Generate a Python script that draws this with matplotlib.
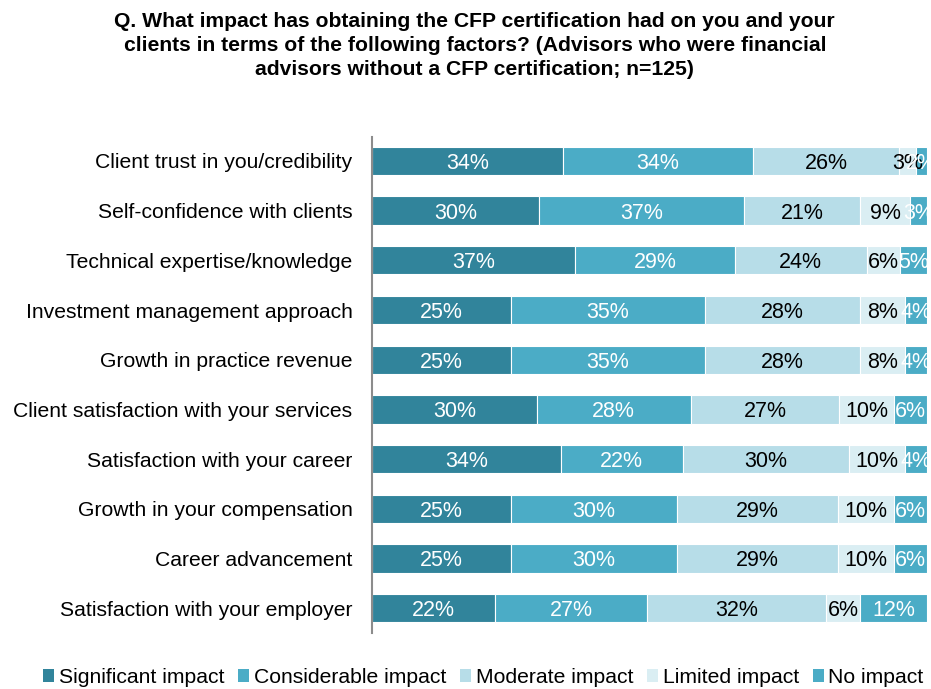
import matplotlib
matplotlib.use("Agg")
import matplotlib.pyplot as plt
from matplotlib.patches import Patch

plt.rcParams["font.family"] = ["Liberation Sans", "DejaVu Sans"]

categories = [
    "Client trust in you/credibility",
    "Self-confidence with clients",
    "Technical expertise/knowledge",
    "Investment management approach",
    "Growth in practice revenue",
    "Client satisfaction with your services",
    "Satisfaction with your career",
    "Growth in your compensation",
    "Career advancement",
    "Satisfaction with your employer",
]
series_names = ["Significant impact", "Considerable impact", "Moderate impact",
                "Limited impact", "No impact"]
significant = [34, 30, 37, 25, 25, 30, 34, 25, 25, 22]
considerable = [34, 37, 29, 35, 35, 28, 22, 30, 30, 27]
moderate = [26, 21, 24, 28, 28, 27, 30, 29, 29, 32]
limited = [3, 9, 6, 8, 8, 10, 10, 10, 10, 6]
no_impact = [2, 3, 5, 4, 4, 6, 4, 6, 6, 12]

colors = ["#31849B", "#4BACC6", "#B7DDE8", "#DAEEF3", "#4BACC6"]
text_colors = ["white", "white", "black", "black", "white"]

series = [significant, considerable, moderate, limited, no_impact]
totals = [sum(vals) for vals in zip(*series)]

fig = plt.figure(figsize=(9.31, 6.89), dpi=100)
ax = fig.add_axes([0.3996, 0.0813, 0.5961, 0.7197])

y = list(range(len(categories)))
left = [0.0] * len(categories)
for vals, name, col, tcol in zip(series, series_names, colors, text_colors):
    # bars share the row total so every row ends at 100%
    widths = [v / t * 100 for v, t in zip(vals, totals)]
    bars = ax.barh(y, widths, left=left, height=0.57, color=col,
                   edgecolor="white", linewidth=0.8, label=name)
    for b, v in zip(bars, vals):
        ax.text(b.get_x() + b.get_width() / 2, b.get_y() + b.get_height() / 2,
                f"{v}%", ha="center", va="center_baseline", color=tcol,
                fontsize=15.5, clip_on=False)
    left = [l + w for l, w in zip(left, widths)]

ax.set_xlim(0, 100)
ax.set_ylim(9.5, -0.48)
ax.set_yticks(y)
ax.set_yticklabels(categories, fontsize=15.2)
ax.tick_params(axis="y", length=0, pad=14)
ax.set_xticks([])
for s in ["top", "right", "bottom"]:
    ax.spines[s].set_visible(False)
ax.spines["left"].set_color("#8C8C8C")
ax.spines["left"].set_linewidth(1.5)

fig.text(0.51, 0.982,
         "Q. What impact has obtaining the CFP certification had on you and your\n"
         "clients in terms of the following factors? (Advisors who were financial\n"
         "advisors without a CFP certification; n=125)",
         ha="center", va="top", fontsize=15.2, fontweight="bold", linespacing=1.33)

handles = [Patch(facecolor=c, edgecolor="none") for c in colors]
fig.legend(handles, series_names, loc="lower center", bbox_to_anchor=(0.519, -0.025),
           ncol=5, frameon=False, fontsize=15.2, handlelength=0.55, handleheight=0.55,
           handletextpad=0.2, columnspacing=0.65)

fig.savefig("out.png", dpi=100)
